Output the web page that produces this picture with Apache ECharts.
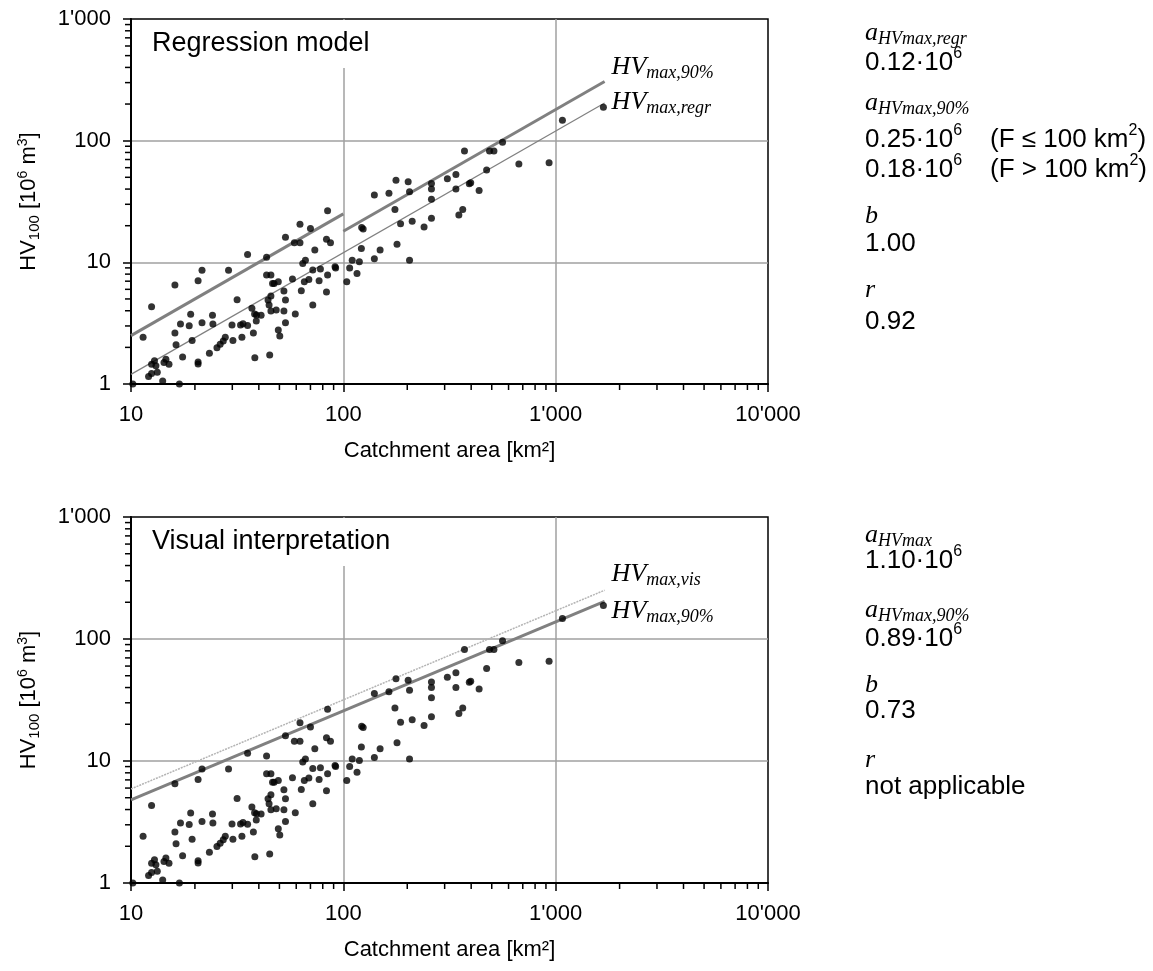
<!DOCTYPE html>
<html>
<head>
<meta charset="utf-8">
<script src="https://cdn.jsdelivr.net/npm/echarts@6/dist/echarts.min.js"></script>
<style>html,body{margin:0;padding:0;background:#fff}#c{width:1153px;height:971px}</style>
</head>
<body>
<div id="c"></div>
<script>
// ---- data ----
const xMajorTicks = [10, 100, 1000, 10000];
const yMajorTicks = [1, 10, 100, 1000];
const points = [
 [10.2,1.0],[11.4,2.42],[12.5,4.32],[12.1,1.15],[12.5,1.22],[12.9,1.55],[12.5,1.45],[13.1,1.41],[13.3,1.25],[14.1,1.06],
 [14.6,1.6],[14.3,1.5],[15.1,1.45],[16.1,6.51],[16.1,2.62],[16.3,2.1],[16.9,1.0],[17.1,3.11],[17.5,1.67],[18.8,3.01],
 [19.1,3.74],[19.4,2.28],[20.7,7.06],[21.6,8.6],[20.7,1.52],[20.7,1.46],[21.6,3.19],[23.4,1.79],[24.2,3.67],[24.3,3.11],
 [25.4,1.99],[26.3,2.12],[27.2,2.26],[27.8,2.42],[28.8,8.6],[29.9,3.05],[30.2,2.28],[31.6,4.93],[32.8,3.05],[33.3,2.42],
 [33.7,3.13],[35.4,3.03],[35.4,11.6],[37.1,4.19],[37.7,2.62],[38.3,1.64],[38.2,3.76],[38.9,3.29],[39.0,3.69],[41.0,3.67],
 [43.5,11.0],[43.5,7.87],[45.6,7.87],[44.2,4.9],[44.7,4.46],[45.6,5.28],[45.6,3.98],[46.4,6.71],[47.2,6.7],[48.3,4.06],
 [49.4,6.92],[45.0,1.73],[49.4,2.78],[50.2,2.48],[52.5,5.8],[52.5,3.98],[53.4,4.9],[53.4,3.19],[53.4,16.1],[57.6,7.3],
 [59.4,3.76],[58.8,14.5],[62.5,14.5],[62.5,20.6],[63.4,5.83],[64.4,9.8],[66.3,10.4],[65.5,6.92],[68.8,7.24],[70.0,19.0],
 [71.8,4.46],[71.8,8.66],[73.4,12.6],[76.9,7.06],[78.0,8.8],[83.3,5.71],[84.3,7.87],[83.3,15.5],[84.3,26.5],[87.0,14.5],
 [91.4,9.2],[92.0,9.0],
 [103.8,6.92],[107.1,9.0],[110.1,10.4],[116,8.1],[119,10.1],[121.6,13.0],[122,19.3],[124,18.8],[140,35.7],[140,10.7],
 [149,12.6],[164,36.9],[175,27.2],[177,47.2],[179,14.1],[186,20.8],[202,45.9],[205,38.0],[205,10.4],[211,21.8],
 [240,19.5],[260,44.4],[260,40.0],[260,33.0],[260,23.0],[309,48.6],[339,52.8],[339,40.0],[350,24.5],[365,27.2],
 [372,82.2],[392,44.3],[398,45.0],[436,39.0],[473,57.4],[488,82.2],[512,82.2],[562,96.9],[671,64.2],[931,65.8],
 [1076,147],[1678,188]
];
// regression model lines (endpoints)
const regrLine = [[10, 1.2], [1700, 204]];
const p90LineLow = [[10, 2.5], [100, 25]];
const p90LineHigh = [[100, 18], [1700, 306]];
// visual interpretation lines
const visLine = [[10, 5.9], [1700, 251]];
const visP90Line = [[10, 4.8], [1700, 203]];

// ---- helpers ----
const SANS = 'Liberation Sans, Arial, sans-serif';
const SERIF = 'Liberation Serif, Times New Roman, serif';
function minorOf(majors) {
  const out = [];
  for (let i = 0; i < majors.length - 1; i++)
    for (let k = 2; k <= 9; k++) out.push(majors[i] * k);
  return out;
}
const xMinor = minorOf(xMajorTicks);
const yMinor = minorOf(yMajorTicks);
function fmt(v) {
  const n = Math.round(v);
  return String(n).replace(/\B(?=(\d{3})+(?!\d))/g, "'");
}
const axisFont = {fontSize: 22, color: '#000', fontFamily: SANS};

const grids = [
  {left: 131, right: 385, top: 19, height: 365},
  {left: 131, right: 385, top: 517, height: 366}
];

function xAxisFor(i) {
  return {
    type: 'log', logBase: 10, min: 10, max: 10000, splitNumber: 3, gridIndex: i,
    axisLine: {show: true, onZero: false, lineStyle: {color: '#000', width: 2}},
    axisTick: {show: true, inside: false, length: 8, lineStyle: {color: '#000', width: 1.5}},
    axisLabel: Object.assign({margin: 20, formatter: fmt}, axisFont),
    splitLine: {show: true, showMinLine: false, showMaxLine: false, lineStyle: {color: '#a0a0a0', width: 1.5}},
    name: 'Catchment area [km²]', nameLocation: 'middle', nameGap: 56, nameMoveOverlap: false,
    nameTextStyle: {fontSize: 22, color: '#000', fontFamily: SANS}
  };
}
function yAxisFor(i) {
  return {
    type: 'log', logBase: 10, min: 1, max: 1000, splitNumber: 3, gridIndex: i,
    axisLine: {show: true, onZero: false, lineStyle: {color: '#000', width: 2}},
    axisTick: {show: true, inside: false, length: 8, lineStyle: {color: '#000', width: 1.5}},
    axisLabel: Object.assign({margin: 20, formatter: fmt}, axisFont),
    splitLine: {show: true, showMinLine: false, showMaxLine: false, lineStyle: {color: '#a0a0a0', width: 1.5}},
    name: '{t|HV}{s|100}{t| [10}{p|6}{t| m}{p|3}{t|]}',
    nameLocation: 'middle', nameRotate: 90, nameGap: 89, nameMoveOverlap: false,
    nameTextStyle: {
      rich: {
        t: {fontSize: 22, fontFamily: SANS, color: '#000', lineHeight: 26},
        s: {fontSize: 15, fontFamily: SANS, color: '#000', lineHeight: 26, verticalAlign: 'bottom'},
        p: {fontSize: 14, fontFamily: SANS, color: '#000', lineHeight: 26, verticalAlign: 'top'}
      }
    }
  };
}
function tickSeries(i) {
  return [
    {type: 'custom', xAxisIndex: i, yAxisIndex: i, silent: true, z: 5, clip: false,
     data: xMinor.map(v => [v, yMajorTicks[0]]),
     renderItem: (p, api) => {
       const c = api.coord([api.value(0), api.value(1)]);
       return {type: 'line', shape: {x1: c[0], y1: c[1], x2: c[0], y2: c[1] + 6},
               style: {stroke: '#000', lineWidth: 1.5}};
     }},
    {type: 'custom', xAxisIndex: i, yAxisIndex: i, silent: true, z: 5, clip: false,
     data: yMinor.map(v => [xMajorTicks[0], v]),
     renderItem: (p, api) => {
       const c = api.coord([api.value(0), api.value(1)]);
       return {type: 'line', shape: {x1: c[0] - 6, y1: c[1], x2: c[0], y2: c[1]},
               style: {stroke: '#000', lineWidth: 1.5}};
     }}
  ];
}
const hvRich = {
  hv: {fontSize: 26, fontFamily: SERIF, fontStyle: 'italic', color: '#000', lineHeight: 28, verticalAlign: 'top'},
  sub: {fontSize: 18, fontFamily: SERIF, fontStyle: 'italic', color: '#000', lineHeight: 28, verticalAlign: 'bottom'}
};
function lineSeries(i, data, color, width, type, label, offset) {
  const s = {
    type: 'line', xAxisIndex: i, yAxisIndex: i, data: data, symbol: 'none', silent: true, z: 3,
    lineStyle: {color: color, width: width, type: type}
  };
  if (label) {
    s.endLabel = {show: true, formatter: label, offset: offset, rich: hvRich, distance: 5};
  }
  return s;
}
function scatterSeries(i) {
  return {type: 'scatter', xAxisIndex: i, yAxisIndex: i, data: points, symbolSize: 7,
          itemStyle: {color: '#000'}, silent: true, z: 4};
}

// right-hand text panel
const it = {fontSize: 26, fontFamily: SERIF, fontStyle: 'italic', color: '#000', lineHeight: 28, verticalAlign: 'top'};
const itSub = {fontSize: 18, fontFamily: SERIF, fontStyle: 'italic', color: '#000', lineHeight: 28, verticalAlign: 'bottom'};
const num = {fontSize: 26, fontFamily: SANS, color: '#000', lineHeight: 34};
const sup = {fontSize: 16, fontFamily: SANS, color: '#000', lineHeight: 34, verticalAlign: 'top'};
const richAll = {it: it, is: itSub, n: num, p: sup};
function txt(left, baseline, text, kind) {
  const off = kind === 'it' ? 20 : 24;
  return {type: 'text', left: left, top: baseline - off, z: 10, silent: true,
          style: {text: text, rich: richAll}};
}
const panelTop = [
  txt(865, 40, '{it|a}{is|HVmax,regr}', 'it'),
  txt(865, 70, '{n|0.12·10}{p|6}', 'n'),
  txt(865, 110, '{it|a}{is|HVmax,90%}', 'it'),
  txt(865, 147, '{n|0.25·10}{p|6}', 'n'),
  txt(990, 147, '{n|(F ≤ 100 km}{p|2}{n|)}', 'n'),
  txt(865, 177, '{n|0.18·10}{p|6}', 'n'),
  txt(990, 177, '{n|(F > 100 km}{p|2}{n|)}', 'n'),
  txt(865, 223, '{it|b}', 'it'),
  txt(865, 255, '{n|1.00}', 'n'),
  txt(865, 297, '{it|r}', 'it'),
  txt(865, 333, '{n|0.92}', 'n')
];
const panelBottom = [
  txt(865, 542, '{it|a}{is|HVmax}', 'it'),
  txt(865, 568, '{n|1.10·10}{p|6}', 'n'),
  txt(865, 617, '{it|a}{is|HVmax,90%}', 'it'),
  txt(865, 646, '{n|0.89·10}{p|6}', 'n'),
  txt(865, 692, '{it|b}', 'it'),
  txt(865, 722, '{n|0.73}', 'n'),
  txt(865, 767, '{it|r}', 'it'),
  txt(865, 798, '{n|not applicable}', 'n')
];

const titleStyle = {fontSize: 27, fontWeight: 'normal', fontFamily: SANS, color: '#000'};
const option = {
  animation: false,
  backgroundColor: '#fff',
  title: [
    {text: 'Regression model', left: 141, top: 20, padding: [10, 8, 11, 11], backgroundColor: '#fff', textStyle: titleStyle, z: 6},
    {text: 'Visual interpretation', left: 141, top: 518, padding: [10, 8, 11, 11], backgroundColor: '#fff', textStyle: titleStyle, z: 6}
  ],
  grid: grids.map(g => Object.assign({show: true, borderColor: '#000', borderWidth: 1.5, backgroundColor: 'transparent'}, g)),
  xAxis: [xAxisFor(0), xAxisFor(1)],
  yAxis: [yAxisFor(0), yAxisFor(1)],
  series: [
    ...tickSeries(0), ...tickSeries(1),
    lineSeries(0, regrLine, '#808080', 1.2, 'solid', '{hv|HV}{sub|max,regr}', [2, 0]),
    lineSeries(0, p90LineLow, '#808080', 3, 'solid', null),
    lineSeries(0, p90LineHigh, '#808080', 3, 'solid', '{hv|HV}{sub|max,90%}', [2, -13]),
    scatterSeries(0),
    lineSeries(1, visLine, '#b4b4b4', 1.5, [2, 1], '{hv|HV}{sub|max,vis}', [2, -15]),
    lineSeries(1, visP90Line, '#808080', 3, 'solid', '{hv|HV}{sub|max,90%}', [2, 11]),
    scatterSeries(1)
  ],
  graphic: [...panelTop, ...panelBottom]
};
const chart = echarts.init(document.getElementById('c'), null, {renderer: 'canvas'});
chart.setOption(option);
</script>
</body>
</html>
